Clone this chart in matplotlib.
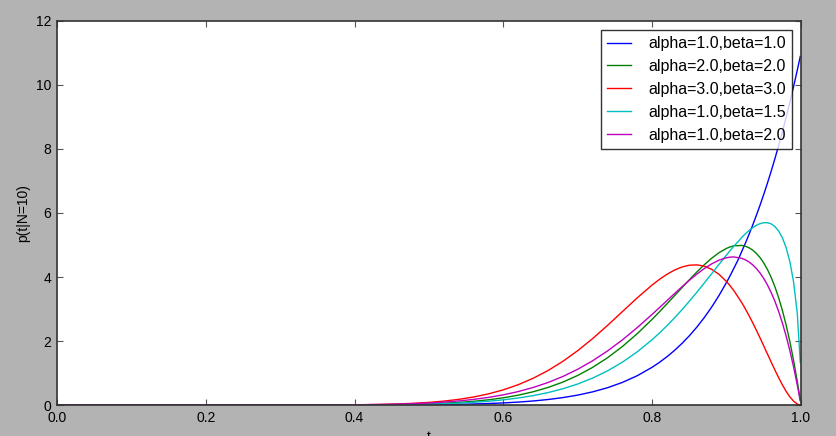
import matplotlib
matplotlib.use("Agg")
import matplotlib.pyplot as plt

# posterior curves p(t|N=10)
t = [0.0, 0.2, 0.3, 0.40, 0.42, 0.44, 0.46, 0.48, 0.50, 0.52, 0.54, 0.56, 0.58,
     0.60, 0.62, 0.64, 0.66, 0.68, 0.70, 0.72, 0.74, 0.76, 0.78, 0.80,
     0.81, 0.82, 0.83, 0.84, 0.85, 0.86, 0.87, 0.88, 0.89,
     0.90, 0.905, 0.91, 0.915, 0.92, 0.925, 0.93, 0.935, 0.94, 0.945, 0.95,
     0.955, 0.96, 0.965, 0.97, 0.975, 0.98, 0.985, 0.99, 0.995, 0.999]

p_a1_b1 = [0.0, 0.0, 0.0001, 0.00115, 0.00188, 0.00299, 0.00467, 0.00714, 0.01074, 0.0159, 0.02319,
           0.03336, 0.04739, 0.06651, 0.09232, 0.12682, 0.17251, 0.23253, 0.31073, 0.41183,
           0.54164, 0.70718, 0.91694, 1.18111, 1.33735, 1.51193, 1.70676, 1.92391, 2.16561,
           2.43432, 2.73266, 3.06351, 3.42999,
           3.83546, 4.05395, 4.28359, 4.51483, 4.77827, 5.0444, 5.3238, 5.61705, 5.92477,
           6.24756, 6.58611, 6.94108, 7.31316, 7.7031, 8.11166, 8.53963, 8.9878, 9.45704,
           9.9482, 10.46221, 10.8905]
p_a2_b2 = [0.0, 0.0, 0.0002, 0.003926, 0.006491, 0.010454, 0.016438, 0.025281, 0.038086, 0.056287,
           0.0817, 0.11659, 0.16371, 0.22638, 0.30847, 0.41438, 0.54902, 0.71758, 0.9254,
           1.17745, 1.47791, 1.82931, 2.2315, 2.68005, 2.91888, 3.16482, 3.41532, 3.66704,
           3.91583, 4.15667, 4.3831, 4.58792, 4.76221,
           4.89544, 4.9429, 4.97534, 4.97981, 4.98747, 4.963, 4.91512, 4.84134, 4.73896,
           4.60508, 4.43664, 4.23033, 3.98263, 3.68971, 3.34761, 2.952, 2.49828, 1.9816,
           1.39672, 0.738158, 0.154293]
p_a3_b3 = [0.0, 0.0, 0.0004, 0.008245, 0.013835, 0.022539, 0.035729, 0.055212, 0.083313, 0.12293,
           0.177579, 0.251355, 0.34895, 0.475408, 0.635913, 0.835387, 1.077964, 1.366272,
           1.700431, 2.077029, 2.488076, 2.919592, 3.350588, 3.752077, 3.930587, 4.087411,
           4.216595, 4.312358, 4.368524, 4.378912, 4.337752, 4.239096, 4.07941,
           3.855158, 3.71845, 3.565453, 3.38895, 3.211954, 3.0127, 2.799773, 2.57453, 2.338701,
           2.0943, 1.844026, 1.59078, 1.338195, 1.09047, 0.852385, 0.6296, 0.428456, 0.25618,
           0.120991, 0.032133, 0.001349]
p_a1_b15 = [0.0, 0.0, 0.0002, 0.003456, 0.005535, 0.00866, 0.013265, 0.019922, 0.029384, 0.042617,
            0.060849, 0.085608, 0.118799, 0.162731, 0.220156, 0.294348, 0.389123, 0.508839,
            0.658368, 0.842989, 1.068377, 1.340175, 1.663717, 2.04331, 2.254999, 2.481389,
            2.72223, 2.976952, 3.244543, 3.523385, 3.811406, 4.105167, 4.400637,
            4.691858, 4.83359, 4.971141, 5.09189, 5.228094, 5.34401, 5.44888, 5.53978, 5.614023,
            5.66785, 5.696971, 5.69588, 5.657994, 5.57478, 5.434982, 5.2232, 4.916971, 4.48051,
            3.848326, 2.86178, 1.33222]
p_a1_b2 = [0.0, 0.0, 0.0004, 0.008305, 0.013077, 0.020104, 0.030238, 0.044565, 0.064453, 0.09159,
           0.12802, 0.17616, 0.23884, 0.31926, 0.42099, 0.54786, 0.70387, 0.89291, 1.11862,
           1.38375, 1.68992, 2.03668, 2.42076, 2.83467, 3.04916, 3.26576, 3.48179, 3.69391,
           3.89811, 4.08974, 4.26296, 4.41146, 4.5276,
           4.60255, 4.6215, 4.62627, 4.60512, 4.58714, 4.53996, 4.47199, 4.3813, 4.26583,
           4.12339, 3.95166, 3.74818, 3.51032, 3.2353, 2.9202, 2.56189, 2.15707, 1.70227,
           1.19378, 0.627733, 0.130686]

labels = ["alpha=1.0,beta=1.0", "alpha=2.0,beta=2.0", "alpha=3.0,beta=3.0",
          "alpha=1.0,beta=1.5", "alpha=1.0,beta=2.0"]
colors = ["#0000ff", "#008000", "#ff0000", "#00bfbf", "#bf00bf"]

plt.rcParams["font.family"] = ["Liberation Sans", "DejaVu Sans"]

fig = plt.figure(figsize=(8.37, 4.36), dpi=100, facecolor="#b3b3b3")
ax = fig.add_axes([0.068, 0.071, 0.889, 0.881])

for ys, lab, col in zip([p_a1_b1, p_a2_b2, p_a3_b3, p_a1_b15, p_a1_b2], labels, colors):
    ax.plot(t, ys, color=col, lw=1.0, label=lab)

ax.set_xlim(0, 1)
ax.set_ylim(0, 12)
ax.set_xticks([0.0, 0.2, 0.4, 0.6, 0.8, 1.0])
ax.set_yticks([0, 2, 4, 6, 8, 10, 12])
ax.tick_params(direction="in", length=4, top=True, right=True, labelsize=10,
               color="#555555", pad=4)
for s in ax.spines.values():
    s.set_color("#333333")
    s.set_linewidth(1.2)

ax.set_xlabel("t", fontsize=10)
ax.set_ylabel("p(t|N=10)", fontsize=10)

leg = ax.legend(loc="upper right", fontsize=11.5, fancybox=False, handlelength=1.5,
                borderaxespad=0.55, labelspacing=0.5, handletextpad=1.05)
leg.get_frame().set_edgecolor("black")
leg.get_frame().set_linewidth(1.0)

fig.savefig("out.png", dpi=100, facecolor=fig.get_facecolor())
